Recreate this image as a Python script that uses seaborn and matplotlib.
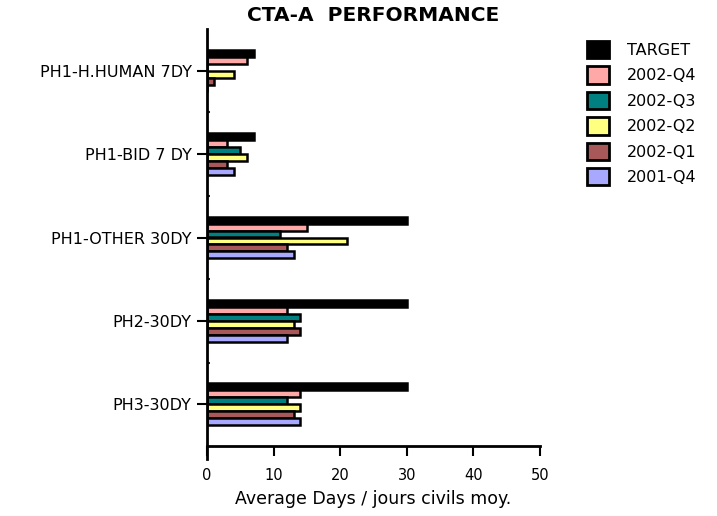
import matplotlib
matplotlib.use('Agg')
import matplotlib.pyplot as plt
from matplotlib.patches import Patch
import pandas as pd
import seaborn as sns

# chart data
categories = ['PH1-H.HUMAN 7DY', 'PH1-BID 7 DY', 'PH1-OTHER 30DY', 'PH2-30DY', 'PH3-30DY']
series = ['TARGET', '2002-Q4', '2002-Q3', '2002-Q2', '2002-Q1', '2001-Q4']
target = [7, 7, 30, 30, 30]
q4_2002 = [6, 3, 15, 12, 14]
q3_2002 = [0, 5, 11, 14, 12]
q2_2002 = [4, 6, 21, 13, 14]
q1_2002 = [1, 3, 12, 14, 13]
q4_2001 = [0, 4, 13, 12, 14]
colors = ['#000000', '#FFA8A8', '#008080', '#FFFF80', '#A85858', '#A8A8FF']

values = [target, q4_2002, q3_2002, q2_2002, q1_2002, q4_2001]
rows = []
for name, vals in zip(series, values):
    for cat, v in zip(categories, vals):
        rows.append({'category': cat, 'series': name, 'value': v})
df = pd.DataFrame(rows)

sns.set_style('white')
plt.rcParams['font.family'] = ['DejaVu Sans']
plt.rcParams['text.color'] = 'black'
plt.rcParams['axes.labelcolor'] = 'black'

fig = plt.figure(figsize=(7.17, 5.16), dpi=100)
ax = fig.add_axes([207 / 717, 70 / 516, 333 / 717, 417 / 516])

sns.barplot(data=df, y='category', x='value', hue='series', orient='h',
            order=categories, hue_order=series, palette=colors,
            width=0.5, edgecolor='black', linewidth=1.8, saturation=1,
            legend=False, ax=ax)

ax.set_xlim(0, 50)
ax.set_ylim(4.5, -0.5)
ax.set_xticks([0, 10, 20, 30, 40, 50])
ax.tick_params(axis='both', direction='out', length=7, width=1.5,
               colors='black', bottom=True, left=True)
ax.tick_params(axis='x', labelsize=10.5, pad=9)
ax.tick_params(axis='y', labelsize=11.5, pad=4)
ax.set_yticks(range(len(categories)))
ax.set_yticks([0.5, 1.5, 2.5, 3.5], minor=True)
ax.tick_params(axis='y', which='minor', direction='in', length=2, width=1.5, left=True)

for side in ['top', 'right']:
    ax.spines[side].set_visible(False)
for side in ['left', 'bottom']:
    ax.spines[side].set_linewidth(2)
    ax.spines[side].set_color('black')
# left axis line runs a little below the x axis, as in the original
ax.spines['left'].set_bounds(-0.5, 4.65)

ax.set_ylabel('')
ax.set_xlabel('Average Days / jours civils moy.', fontsize=12.5, labelpad=5)
ax.set_title('CTA-A  PERFORMANCE', fontsize=14.5, fontweight='bold', pad=6)

handles = [Patch(facecolor=c, edgecolor='black', linewidth=2, label=s)
           for c, s in zip(colors, series)]
fig.legend(handles=handles, loc='upper left', bbox_to_anchor=(579 / 717, 483 / 516),
           frameon=False, fontsize=11.5, handlelength=1.4, handleheight=1.3,
           labelspacing=0.5, handletextpad=1.1, borderpad=0)

fig.savefig('out.png', dpi=100)
